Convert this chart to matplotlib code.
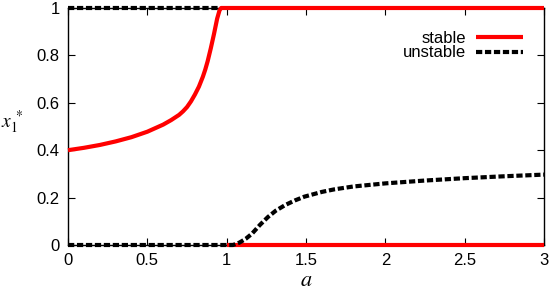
import numpy as np
import matplotlib.pyplot as plt

plt.rcParams['font.family'] = ['Liberation Sans', 'DejaVu Sans']
plt.rcParams['mathtext.fontset'] = 'stix'

# stable branches
stable_upper_a = [0.0, 0.1, 0.2, 0.3, 0.4, 0.5, 0.6, 0.65, 0.7, 0.725, 0.75, 0.775, 0.8,
                  0.825, 0.85, 0.865, 0.88, 0.9, 0.92, 0.94, 0.955, 0.965, 3.0]
stable_upper_x = [0.40, 0.41, 0.422, 0.437, 0.455, 0.478, 0.508, 0.527, 0.549, 0.564, 0.582,
                  0.606, 0.635, 0.668, 0.71, 0.74, 0.775, 0.83, 0.89, 0.955, 0.99, 1.0, 1.0]
stable_lower_a = [1.0, 3.0]
stable_lower_x = [0.0, 0.0]

# unstable branches
unstable_top_a = [0.0, 0.96]
unstable_top_x = [1.0, 1.0]
unstable_low_a = [0.0, 1.04, 1.08, 1.12, 1.16, 1.21, 1.26, 1.31, 1.37, 1.43, 1.49, 1.6,
                  1.68, 1.8, 2.0, 2.25, 2.5, 2.75, 3.0]
unstable_low_x = [0.0, 0.0, 0.01, 0.026, 0.048, 0.085, 0.118, 0.145, 0.169, 0.188, 0.204,
                  0.224, 0.235, 0.247, 0.26, 0.272, 0.282, 0.29, 0.297]

xticks = [0, 0.5, 1, 1.5, 2, 2.5, 3]
yticks = [0, 0.2, 0.4, 0.6, 0.8, 1]

fig = plt.figure(figsize=(5.51, 2.99), dpi=100)
ax = fig.add_axes([68/551, 1 - 245/299, 476/551, 237/299])

red = '#ff0000'
ax.plot(stable_upper_a, stable_upper_x, color=red, lw=3, clip_on=False,
        solid_capstyle='butt', solid_joinstyle='round', label='stable', zorder=3)
ax.plot(stable_lower_a, stable_lower_x, color=red, lw=3, clip_on=False,
        solid_capstyle='butt', zorder=3)
ax.plot(unstable_top_a, unstable_top_x, color='black', lw=3, clip_on=False,
        dashes=(1.5, 0.65), dash_capstyle='butt', label='unstable', zorder=4)
ax.plot(unstable_low_a, unstable_low_x, color='black', lw=3, clip_on=False,
        dashes=(1.5, 0.65), dash_capstyle='butt', dash_joinstyle='round', zorder=4)

ax.set_xlim(0, 3)
ax.set_ylim(0, 1)
ax.set_xticks(xticks)
ax.set_xticklabels(['0', '0.5', '1', '1.5', '2', '2.5', '3'])
ax.set_yticks(yticks)
ax.set_yticklabels(['0', '0.2', '0.4', '0.6', '0.8', '1'])
ax.tick_params(direction='in', length=5, width=0.8, top=True, right=True,
               labelsize=12, pad=6)
for s in ax.spines.values():
    s.set_linewidth(1)

ax.text(-0.118, 0.52, r'$x_1^{\,*}$', transform=ax.transAxes, fontsize=14,
        ha='center', va='center')
ax.text(0.5, -0.15, r'$a$', transform=ax.transAxes, fontsize=16,
        ha='center', va='center')

leg = ax.legend(loc='upper right', bbox_to_anchor=(0.97, 0.93), frameon=False,
                markerfirst=False, fontsize=12, handlelength=2.8,
                labelspacing=-0.05, handletextpad=0.6, borderaxespad=0)
for t in leg.get_texts():
    t.set_ha('right')

fig.savefig('out.png', dpi=100)
